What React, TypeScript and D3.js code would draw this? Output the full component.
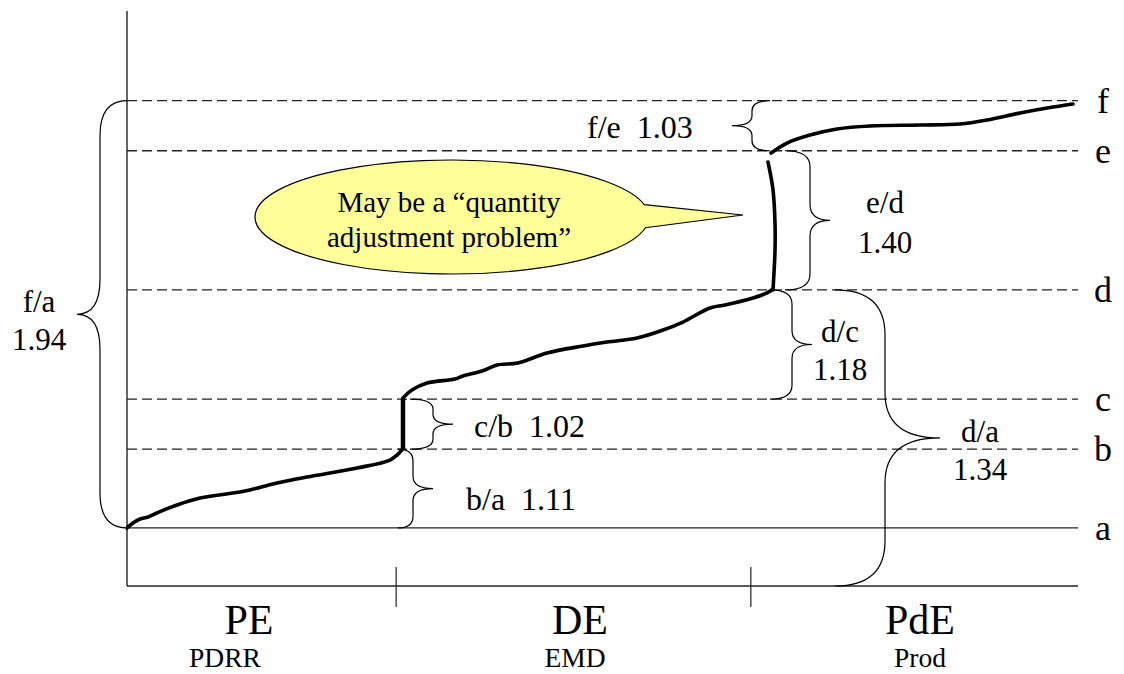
import React from 'react';
import * as d3 from 'd3';

// ---- data (schematic units) ----
const levelNames = ['a', 'b', 'c', 'd', 'e', 'f'];
const levelValues = [10.1, 23.8, 32.5, 51.5, 75.7, 84.4];

const phaseNames = ['PE', 'DE', 'PdE'];
const phaseSubs = ['PDRR', 'EMD', 'Prod'];
const phaseBounds = [28.3, 65.6];

const ratioNames = ['f/a', 'b/a', 'c/b', 'd/c', 'e/d', 'f/e', 'd/a'];
const ratioValues = ['1.94', '1.11', '1.02', '1.18', '1.40', '1.03', '1.34'];
const ratioFrom = [10.1, 10.1, 23.8, 32.5, 51.5, 75.7, 0];
const ratioTo = [84.4, 23.8, 32.5, 51.5, 75.7, 84.4, 51.5];

// cost curve segments: time (t) and level (v)
const peT = [0, 0.63, 1.37, 2.21, 3.15, 5.26, 7.68, 11.88, 12.93, 15.77, 18.93, 24.19, 27.66, 28.39, 28.81, 29.02];
const peV = [10.09, 10.96, 11.65, 12.0, 12.7, 14.09, 15.3, 16.35, 16.7, 17.91, 18.96, 20.52, 21.91, 22.78, 23.48, 23.83];
const jump1T = [29.02, 29.02];
const jump1V = [23.83, 32.6];
const deT = [29.02, 29.97, 31.55, 34.49, 35.33, 37.33, 38.91, 41.11, 44.16, 47.95, 50.47, 53.63, 56.36, 58.46, 61.3, 62.88, 65.83, 67.3, 67.93];
const deV = [32.7, 34.09, 35.3, 36.0, 36.52, 37.39, 38.43, 38.78, 40.52, 41.74, 42.43, 43.13, 44.52, 45.91, 48.35, 48.87, 50.09, 50.96, 51.65];
const jump2T = [67.93, 68.14, 68.14, 67.93, 67.4];
const jump2V = [51.48, 58.43, 63.13, 68.87, 73.74];
const pdeT = [67.72, 69.4, 71.82, 74.66, 78.13, 83.39, 87.59, 90.43, 93.9, 97.37, 99.47];
const pdeV = [75.3, 77.04, 78.43, 79.48, 80.0, 80.17, 80.35, 81.04, 82.26, 83.3, 83.83];

// ---- layout ----
const W = 1124, H = 674;
const x = d3.scaleLinear().domain([0, 100]).range([127, 1078]);
const y = d3.scaleLinear().domain([0, 100]).range([586, 11]);

// brace geometry: end x, spine x, tip x, corner radius
const braceGeom = [
  { x0: 127, xs: 100, xt: 77, r: 35 },
  { x0: 398, xs: 413, xt: 433, r: 12 },
  { x0: 410, xs: 433, xt: 453, r: 10 },
  { x0: 770, xs: 792, xt: 812, r: 14 },
  { x0: 785, xs: 810, xt: 830, r: 16 },
  { x0: 770, xs: 752, xt: 732, r: 10 },
  { x0: 835, xs: 885, xt: 940, r: 45 },
];
// label placement: [x, baseline1, baseline2 | null, anchor]
const labelGeom: [number, number, number | null, string][] = [
  [39, 312, 350, 'middle'],
  [466, 510, null, 'start'],
  [474, 437, null, 'start'],
  [840, 342, 380, 'middle'],
  [885, 213, 253, 'middle'],
  [587, 138, null, 'start'],
  [980, 442, 480, 'middle'],
];
const phaseLabelX = [249, 580, 920];
const phaseSubX = [225, 575, 920];

function bracePath(g: { x0: number; xs: number; xt: number; r: number }, yTop: number, yBot: number) {
  const ym = (yTop + yBot) / 2;
  const { x0, xs, xt, r } = g;
  const rm = Math.min(r, (yBot - yTop) / 4);
  return [
    `M${x0},${yTop}`,
    `Q${xs},${yTop} ${xs},${yTop + rm}`,
    `L${xs},${ym - rm}`,
    `Q${xs},${ym} ${xt},${ym}`,
    `Q${xs},${ym} ${xs},${ym + rm}`,
    `L${xs},${yBot - rm}`,
    `Q${xs},${yBot} ${x0},${yBot}`,
  ].join(' ');
}

const line = d3
  .line<[number, number]>()
  .x((d) => x(d[0]))
  .y((d) => y(d[1]))
  .curve(d3.curveCatmullRom.alpha(0.5));

const zip = (ts: number[], vs: number[]) => ts.map((t, i) => [t, vs[i]] as [number, number]);

const FONT = '"Liberation Serif", "Times New Roman", serif';

export default function App() {
  // callout
  const cx = 452, cy = 217, rx = 197, ry = 57;
  const a1 = -0.22, a2 = 0.19;
  const A = [cx + rx * Math.cos(a1), cy + ry * Math.sin(a1)];
  const B = [cx + rx * Math.cos(a2), cy + ry * Math.sin(a2)];
  const tip = [743, 215];
  const callout = `M${A[0]},${A[1]} A${rx},${ry} 0 1 0 ${B[0]},${B[1]} L${tip[0]},${tip[1]} Z`;

  const stroke = '#222';
  return (
    <svg
      width={W}
      height={H}
      style={{ position: 'absolute', left: 0, top: 0, background: '#fff' }}
      fontFamily={FONT}
    >
      {/* horizontal level lines */}
      {levelValues.map((v, i) => (
        <line
          key={levelNames[i]}
          x1={x(0)}
          x2={x(100)}
          y1={y(v)}
          y2={y(v)}
          stroke={stroke}
          strokeWidth={1.3}
          strokeDasharray={i === 0 ? undefined : '10,5'}
        />
      ))}
      {/* axes */}
      <line x1={x(0)} x2={x(0)} y1={y(100)} y2={y(0)} stroke={stroke} strokeWidth={1.4} />
      <line x1={x(0)} x2={x(100)} y1={y(0)} y2={y(0)} stroke={stroke} strokeWidth={1.4} />
      {phaseBounds.map((b) => (
        <line key={b} x1={x(b)} x2={x(b)} y1={y(0) - 19} y2={y(0) + 21} stroke={stroke} strokeWidth={1.2} />
      ))}
      {/* level labels */}
      {levelValues.map((v, i) => (
        <text key={'l' + i} x={1103} y={y(v) + 12} fontSize={36} textAnchor="middle" fill="#000">
          {levelNames[i]}
        </text>
      ))}
      {/* phase labels */}
      {phaseNames.map((p, i) => (
        <g key={p}>
          <text x={phaseLabelX[i]} y={634} fontSize={42} textAnchor="middle" fill="#000">
            {p}
          </text>
          <text x={phaseSubX[i]} y={667} fontSize={27.5} textAnchor="middle" fill="#000">
            {phaseSubs[i]}
          </text>
        </g>
      ))}
      {/* braces */}
      {ratioNames.map((r, i) => {
        const yTop = y(ratioTo[i]);
        const yBot = y(ratioFrom[i]);
        const lg = labelGeom[i];
        return (
          <g key={r}>
            <path d={bracePath(braceGeom[i], yTop, yBot)} fill="none" stroke="#000" strokeWidth={1.2} />
            {lg[2] === null ? (
              <text x={lg[0]} y={lg[1]} fontSize={32} textAnchor={lg[3]} style={{ whiteSpace: 'pre' }}>
                {r + '  ' + ratioValues[i]}
              </text>
            ) : (
              <>
                <text x={lg[0]} y={lg[1]} fontSize={31} textAnchor={lg[3]}>
                  {r}
                </text>
                <text x={lg[0]} y={lg[2]} fontSize={31} textAnchor={lg[3]}>
                  {ratioValues[i]}
                </text>
              </>
            )}
          </g>
        );
      })}
      {/* curve */}
      <path d={line(zip(peT, peV)) || ''} fill="none" stroke="#000" strokeWidth={3.6} strokeLinecap="round" />
      <path d={line(zip(jump1T, jump1V)) || ''} fill="none" stroke="#000" strokeWidth={4.5} />
      <path d={line(zip(deT, deV)) || ''} fill="none" stroke="#000" strokeWidth={3.6} strokeLinecap="round" />
      <path d={line(zip(jump2T, jump2V)) || ''} fill="none" stroke="#000" strokeWidth={3.6} strokeLinecap="round" />
      <path d={line(zip(pdeT, pdeV)) || ''} fill="none" stroke="#000" strokeWidth={3.6} strokeLinecap="round" />
      {/* callout */}
      <path d={callout} fill="#FFFF99" stroke="#000" strokeWidth={1.2} />
      <text x={449} y={212} fontSize={29} textAnchor="middle">
        May be a “quantity
      </text>
      <text x={449} y={247} fontSize={29} textAnchor="middle">
        adjustment problem”
      </text>
    </svg>
  );
}
